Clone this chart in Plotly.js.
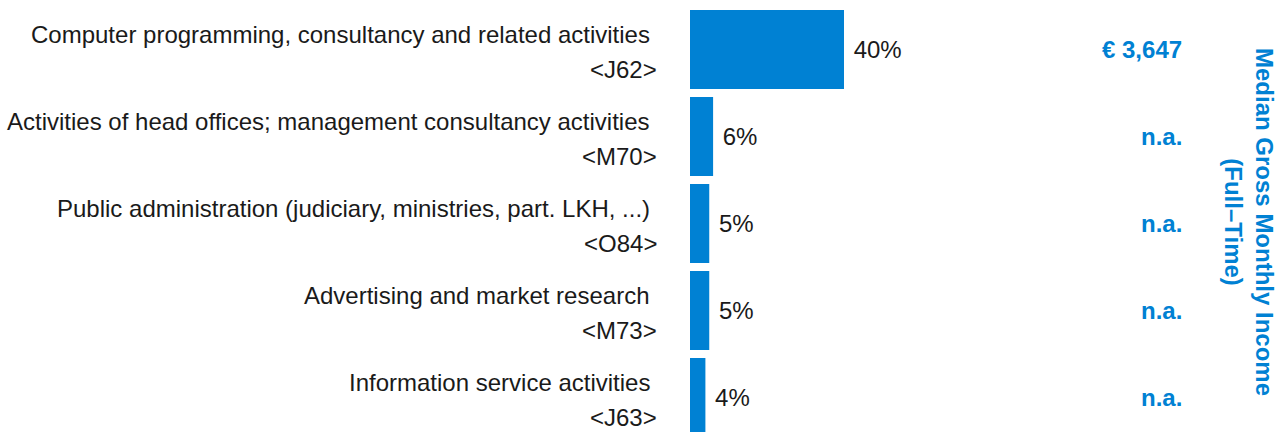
<!DOCTYPE html>
<html>
<head>
<meta charset="utf-8">
<script src="https://cdn.plot.ly/plotly-3.0.1.min.js"></script>
<style>html,body{margin:0;padding:0;background:#fff;}#chart{width:1284px;height:432px;}</style>
</head>
<body>
<div id="chart"></div>
<script>
const names = [
  "Computer programming, consultancy and related activities",
  "Activities of head offices; management consultancy activities",
  "Public administration (judiciary, ministries, part. LKH, ...)",
  "Advertising and market research",
  "Information service activities"
];
const codes = ["<J62>", "<M70>", "<O84>", "<M73>", "<J63>"];
const shares = [40, 6, 5, 5, 4];
const incomes = ["€ 3,647", "n.a.", "n.a.", "n.a.", "n.a."];
const incomeTitle = "Median Gross Monthly Income<br>(Full–Time)";

const blue = "#0081D3";
const font = "Liberation Sans, Arial, sans-serif";
const esc = s => s.replace(/</g, "&lt;").replace(/>/g, "&gt;");

const trace = {
  type: "bar",
  orientation: "h",
  x: shares,
  y: codes.map(esc),
  marker: {color: blue},
  text: shares.map(v => " " + v + "%"),
  textposition: "outside",
  textfont: {family: font, size: 24, color: "#1a1a1a"},
  cliponaxis: false,
  hoverinfo: "none"
};

const annotations = [];
names.forEach((n, i) => {
  annotations.push({xref: "paper", yref: "y", x: 0, y: esc(codes[i]), text: n,
    xanchor: "right", yanchor: "middle", xshift: -38, yshift: 15, showarrow: false,
    font: {family: font, size: 24, color: "#1a1a1a"}});
  annotations.push({xref: "paper", yref: "y", x: 0, y: esc(codes[i]), text: esc(codes[i]),
    xanchor: "right", yanchor: "middle", xshift: -31, yshift: -20, showarrow: false,
    font: {family: font, size: 24, color: "#1a1a1a"}});
  annotations.push({xref: "paper", yref: "y", x: (1184 - 690) / 385, y: esc(codes[i]), text: "<b>" + incomes[i] + "</b>",
    xanchor: "right", yanchor: "middle", showarrow: false,
    font: {family: font, size: 24, color: blue}});
});
annotations.push({xref: "paper", yref: "paper", x: (1249 - 690) / 385, y: 1 - (222 - 6) / 426,
  text: "<b>" + incomeTitle + "</b>", textangle: 90, showarrow: false,
  xanchor: "center", yanchor: "middle", font: {family: font, size: 24, color: blue}});

const layout = {
  width: 1284, height: 432,
  margin: {l: 690, r: 209, t: 6, b: 0, pad: 0},
  paper_bgcolor: "#fff", plot_bgcolor: "#fff",
  showlegend: false,
  bargap: 0.092,
  xaxis: {range: [0, 100], visible: false, fixedrange: true},
  yaxis: {type: "category", range: [4.397, -0.5], showticklabels: false, showgrid: false, zeroline: false, showline: false, ticks: ""},
  annotations: annotations
};

Plotly.newPlot("chart", [trace], layout, {staticPlot: true, displayModeBar: false});
</script>
</body>
</html>
